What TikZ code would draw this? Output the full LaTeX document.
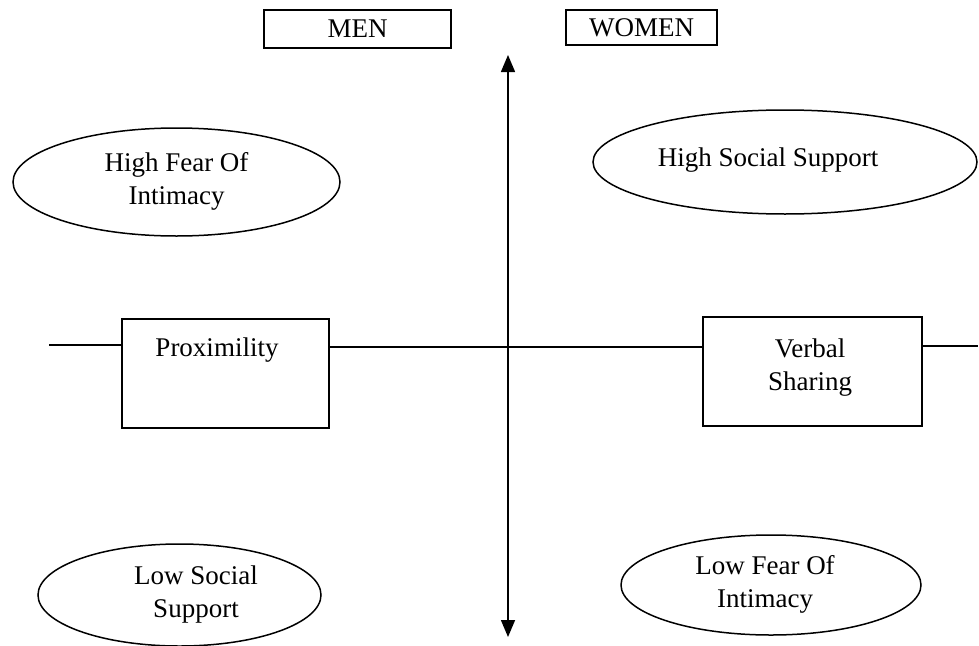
\documentclass[tikz,border=0pt]{standalone}
\usepackage{fontspec}
\setmainfont{Liberation Serif}
\usetikzlibrary{shapes.geometric,arrows.meta}
\begin{document}
\begin{tikzpicture}[x=1pt,y=-1pt,line width=1.5pt,
  txt/.style={font=\fontsize{27}{33}\selectfont,align=center,inner sep=0pt},
  boxn/.style={draw,rectangle,inner sep=0pt},
  ell/.style={draw,ellipse,inner sep=0pt},
  tip/.style={-{Triangle[length=17pt,width=14pt]}}]
\useasboundingbox (0,0) rectangle (979,645);
% top labels
\node[boxn,minimum width=187pt,minimum height=38pt] (men) at (357.5,29) {};
\node[txt] (mentxt) at (357.5,29) {MEN};
\node[boxn,minimum width=151pt,minimum height=35pt] (women) at (641.5,27.5) {};
\node[txt] (womentxt) at (641.5,27.5) {WOMEN};
% vertical axis
\coordinate (vtop) at (508,55);
\coordinate (vbot) at (508,637);
\draw[tip] (508,346) -- (vtop);
\draw[tip] (508,346) -- (vbot);
% boxes on horizontal axis
\node[boxn,minimum width=207pt,minimum height=109pt] (prox) at (225.5,373.5) {};
\node[txt] (proxtxt) at (217,350) {Proximility};
\node[boxn,minimum width=219pt,minimum height=109pt] (verb) at (812.5,371.5) {};
\node[txt] (verbtxt) at (810,368) {Verbal\\Sharing};
\coordinate (hl) at (49,345);
\coordinate (hr) at (978,346);
\draw (hl) -- (prox.west |- hl);
\draw (prox.east |- 0,347) -- (verb.west |- 0,347);
\draw (verb.east |- hr) -- (hr);
% ellipses
\node[ell,minimum width=327pt,minimum height=108pt] (e1) at (176.5,182) {};
\node[txt] (e1txt) at (176.5,181) {High Fear Of\\Intimacy};
\node[ell,minimum width=384pt,minimum height=104pt] (e2) at (785,162) {};
\node[txt] (e2txt) at (768,160) {High Social Support};
\node[ell,minimum width=283pt,minimum height=102pt] (e3) at (179.5,595) {};
\node[txt] (e3txt) at (196,594) {Low Social\\Support};
\node[ell,minimum width=300pt,minimum height=100pt] (e4) at (771,585) {};
\node[txt] (e4txt) at (765,584) {Low Fear Of\\Intimacy};
\end{tikzpicture}
\end{document}
